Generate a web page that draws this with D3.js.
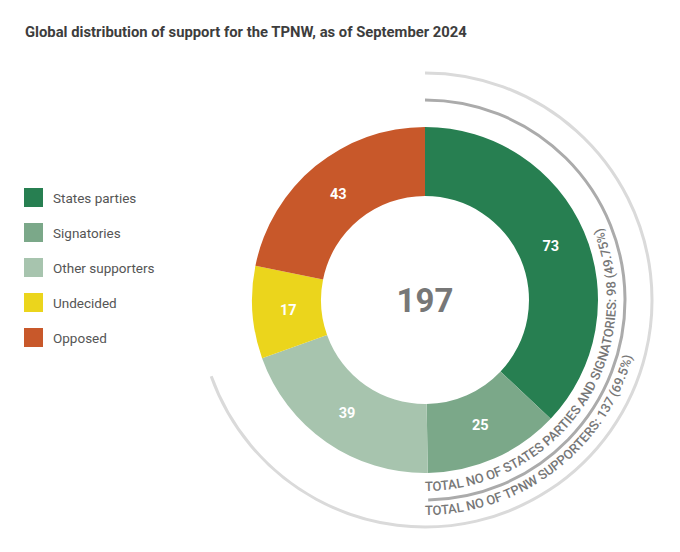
<!DOCTYPE html>
<html lang="en">
<head>
    <meta charset="utf-8">
    <script src="https://d3js.org/d3.v7.min.js"></script>
    <style>
        body { margin: 0; background: #fff; }
        svg { font-family: Roboto, "Noto Sans", sans-serif; display: block; }
        .title { font-size: 14.8px; font-weight: 700; fill: #3d3d3d; }
        .legend-label { font-size: 13.5px; fill: #555; }
        .value-label { font-size: 14.5px; font-weight: 700; fill: #fff; }
        .total { font-size: 33px; font-weight: 700; fill: #777; }
        .arc-text { font-size: 13px; font-weight: 500; fill: #777; }
    </style>
</head>
<body>
    <div id="chart"></div>

    <script>
        // Data
        const categories = ['States parties', 'Signatories', 'Other supporters', 'Undecided', 'Opposed'];
        const counts = [73, 25, 39, 17, 43];
        const colors = ['#277f51', '#7ba889', '#a7c4ae', '#ebd51c', '#c8582a'];

        // Summary arcs round the donut: number of states covered and their label
        const summaryCounts = [98, 137];
        const summaryLabels = [
            'TOTAL NO OF STATES PARTIES AND SIGNATORIES: 98 (49.75%)',
            'TOTAL NO OF TPNW SUPPORTERS: 137 (69.5%)'
        ];

        const width = 680, height = 552;
        const cx = 425, cy = 300;
        const outerR = 173, innerR = 104;

        const svg = d3.select('#chart')
            .append('svg')
            .attr('width', width)
            .attr('height', height);

        // Title
        svg.append('text')
            .attr('class', 'title')
            .attr('x', 25)
            .attr('y', 37)
            .text('Global distribution of support for the TPNW, as of September 2024');

        // Legend
        const legend = svg.append('g').attr('transform', 'translate(24,188)');
        const rows = legend.selectAll('g')
            .data(categories)
            .enter().append('g')
            .attr('transform', (d, i) => `translate(0,${i * 35})`);

        rows.append('rect')
            .attr('width', 19)
            .attr('height', 19)
            .attr('fill', (d, i) => colors[i]);

        rows.append('text')
            .attr('class', 'legend-label')
            .attr('x', 29)
            .attr('y', 10)
            .attr('dy', '0.35em')
            .text(d => d);

        // Donut
        const total = d3.sum(counts);
        const pie = d3.pie().sort(null).value(d => d);
        const arcs = pie(counts);

        const arc = d3.arc().innerRadius(innerR).outerRadius(outerR);
        const labelArc = d3.arc().innerRadius(137).outerRadius(137);

        const donut = svg.append('g').attr('transform', `translate(${cx},${cy})`);

        donut.selectAll('path')
            .data(arcs)
            .enter().append('path')
            .attr('d', arc)
            .attr('fill', (d, i) => colors[i]);

        donut.selectAll('text.value-label')
            .data(arcs)
            .enter().append('text')
            .attr('class', 'value-label')
            .attr('transform', d => `translate(${labelArc.centroid(d)})`)
            .attr('text-anchor', 'middle')
            .attr('dy', '0.35em')
            .text(d => d.data);

        donut.append('text')
            .attr('class', 'total')
            .attr('text-anchor', 'middle')
            .attr('dy', '0.35em')
            .text(total);

        // Summary arcs (clockwise from the top) and the curved labels inside them
        const arcRadii = [200, 227];
        const textRadii = [191, 215];
        const arcColors = ['#ababab', '#dadada'];
        const angle = d3.scaleLinear().domain([0, total]).range([0, 2 * Math.PI]);

        summaryCounts.forEach((n, i) => {
            const p = d3.path();
            const a0 = -Math.PI / 2;
            const a1 = a0 + angle(n);
            p.arc(0, 0, arcRadii[i], a0, a1, false);
            donut.append('path')
                .attr('d', p.toString())
                .attr('fill', 'none')
                .attr('stroke', arcColors[i])
                .attr('stroke-width', 3);

            // text path runs from the bottom up the right side
            const tp = d3.path();
            tp.arc(0, 0, textRadii[i], Math.PI / 2, -Math.PI / 2, true);
            donut.append('path')
                .attr('id', 'tp' + i)
                .attr('d', tp.toString())
                .attr('fill', 'none');

            donut.append('text')
                .attr('class', 'arc-text')
                .append('textPath')
                .attr('href', '#tp' + i)
                .text(summaryLabels[i]);
        });
    </script>
</body>
</html>
